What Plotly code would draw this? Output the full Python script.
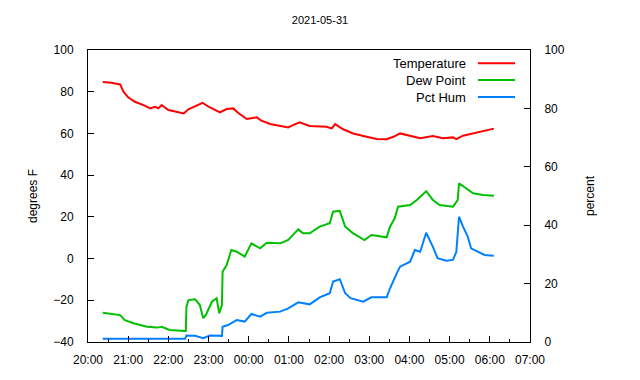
import plotly.graph_objects as go
from datetime import datetime, timedelta

title_text = "2021-05-31"

temp_times = ["20:22","20:35","20:48","20:53","21:00","21:10","21:23","21:33","21:40","21:45","21:50","22:00","22:12","22:23","22:30","22:42","22:51","23:00","23:07","23:17","23:27","23:37","23:44","23:57","00:12","00:19","00:32","00:47","00:59","01:06","01:16","01:31","01:56","02:04","02:09","02:21","02:36","02:56","03:11","03:26","03:36","03:46","04:01","04:16","04:35","04:50","05:05","05:10","05:20","05:35","05:50","06:06"]
temp_vals = [84.6,84.3,83.5,80.0,77.3,75.2,73.6,72.0,72.8,72.0,73.6,71.2,70.4,69.6,71.6,73.3,74.7,72.8,71.7,70.1,71.7,72.0,69.9,66.9,67.7,66.1,64.5,63.5,62.9,64.0,65.3,63.6,63.2,62.4,64.5,62.0,60.0,58.4,57.3,57.2,58.4,60.0,58.8,57.7,58.8,57.7,58.1,57.3,58.9,60.0,61.3,62.3]

dew_times = ["20:22","20:48","20:55","21:08","21:28","21:43","21:50","22:02","22:25","22:26","22:27","22:30","22:40","22:47","22:52","22:56","23:05","23:12","23:16","23:20","23:21","23:27","23:34","23:42","23:54","00:04","00:17","00:27","00:47","00:59","01:14","01:21","01:31","01:46","02:01","02:06","02:16","02:24","02:36","02:53","03:03","03:26","03:31","03:38","03:43","04:01","04:11","04:25","04:35","04:45","05:05","05:12","05:14","05:25","05:35","05:50","06:06"]
dew_vals = [-26.0,-27.1,-29.5,-31.0,-32.7,-33.1,-32.7,-34.2,-34.7,-34.7,-23.1,-19.9,-19.5,-22.3,-28.6,-27.0,-20.7,-19.0,-26.2,-22.3,-6.3,-3.1,4.1,3.3,0.9,7.3,4.9,7.6,7.3,8.9,14.0,12.1,12.1,15.3,16.9,22.5,22.9,15.3,12.1,8.9,11.3,10.2,15.3,19.3,24.9,25.7,28.1,32.3,28.1,25.7,24.9,28.0,36.1,33.7,31.3,30.5,30.1]

hum_times = ["20:22","22:25","22:27","22:40","22:52","23:02","23:20","23:21","23:29","23:42","23:54","00:04","00:17","00:27","00:47","00:59","01:14","01:31","01:46","02:01","02:06","02:16","02:24","02:32","02:51","03:03","03:26","03:31","03:41","03:46","04:01","04:08","04:16","04:25","04:35","04:42","04:55","05:05","05:10","05:14","05:20","05:27","05:32","05:42","05:52","06:06"]
hum_vals = [1.1,1.1,2.2,2.1,1.3,2.2,2.1,5.2,5.8,7.5,7.0,9.6,8.7,10.0,10.4,11.5,13.6,12.9,15.3,16.7,20.7,21.5,16.7,15.0,13.8,15.3,15.3,18.4,23.5,25.8,27.5,31.5,30.9,37.4,32.6,28.7,27.8,28.1,30.9,42.9,39.5,36.1,32.1,30.9,29.8,29.5]

series_names = ["Temperature", "Dew Point", "Pct Hum"]
series_colors = ["#ff0000", "#00c000", "#0080ff"]

base = datetime(2021, 5, 31)

def to_dt(s):
    h, m = map(int, s.split(":"))
    d = base + timedelta(hours=h, minutes=m)
    if h < 12:
        d += timedelta(days=1)
    return d

fig = go.Figure()
fig.add_trace(go.Scatter(x=[to_dt(t) for t in temp_times], y=temp_vals, mode="lines",
                         line=dict(color=series_colors[0], width=2), name=series_names[0], showlegend=False))
fig.add_trace(go.Scatter(x=[to_dt(t) for t in dew_times], y=dew_vals, mode="lines",
                         line=dict(color=series_colors[1], width=2), name=series_names[1], showlegend=False))
fig.add_trace(go.Scatter(x=[to_dt(t) for t in hum_times], y=hum_vals, mode="lines", yaxis="y2",
                         line=dict(color=series_colors[2], width=2), name=series_names[2], showlegend=False))

fam = "Liberation Sans, Arial, sans-serif"
font = dict(family=fam, size=12, color="#000000")

# page has 8px body margin: figure is 624x364 so page plot area is x 88..530, y 50..342
fig.update_layout(
    width=624, height=364,
    margin=dict(l=80, r=102, t=42, b=30),
    paper_bgcolor="white", plot_bgcolor="white",
    font=font,
    title=dict(text=title_text, x=0.5, xref="container", xanchor="center",
               y=1 - 12 / 364, yref="container", yanchor="middle",
               font=dict(family=fam, size=11, color="#000000")),
    xaxis=dict(
        range=[base + timedelta(hours=20), base + timedelta(hours=31)],
        type="date", tickformat="%H:%M", dtick=3600000, tick0=base + timedelta(hours=20),
        ticks="inside", ticklen=6, tickcolor="black", showgrid=False, zeroline=False,
        showline=True, linecolor="black", linewidth=1, mirror=True,
        ticklabelstandoff=7, automargin=False,
        minor=dict(ticks="inside", ticklen=3, dtick=1800000, tickcolor="black", showgrid=False),
    ),
    yaxis=dict(
        range=[-40, 100], dtick=20, ticks="inside", ticklen=6, tickcolor="black",
        showgrid=False, zeroline=False, showline=True, linecolor="black", linewidth=1,
        ticklabelstandoff=11, automargin=False,
    ),
    yaxis2=dict(
        range=[0, 100], dtick=20, overlaying="y", side="right", ticks="inside", ticklen=6,
        tickcolor="black", showgrid=False, zeroline=False, showline=True, linecolor="black",
        linewidth=1, ticklabelstandoff=11, automargin=False,
    ),
)

# Axis titles
fig.add_annotation(text="degrees F", xref="paper", yref="paper", x=(33 - 88) / 442, y=0.5,
                   textangle=-90, showarrow=False, font=font, xanchor="center", yanchor="middle")
fig.add_annotation(text="percent", xref="paper", yref="paper", x=(590 - 88) / 442, y=0.5,
                   textangle=-90, showarrow=False, font=font, xanchor="center", yanchor="middle")

# Legend (gnuplot style: text right-aligned, sample on the right)
leg_font = dict(family=fam, size=13, color="#000000")
leg_y = [0.955, 0.897, 0.839]
for name, col, yy in zip(series_names, series_colors, leg_y):
    fig.add_annotation(text=name, xref="paper", yref="paper", x=(467 - 88) / 442, y=yy,
                       xanchor="right", yanchor="middle", showarrow=False, font=leg_font,
                       borderpad=0)
    fig.add_shape(type="line", xref="paper", yref="paper", x0=(478 - 88) / 442, x1=(515 - 88) / 442,
                  y0=yy, y1=yy, line=dict(color=col, width=2))

fig.write_html("out.html")
